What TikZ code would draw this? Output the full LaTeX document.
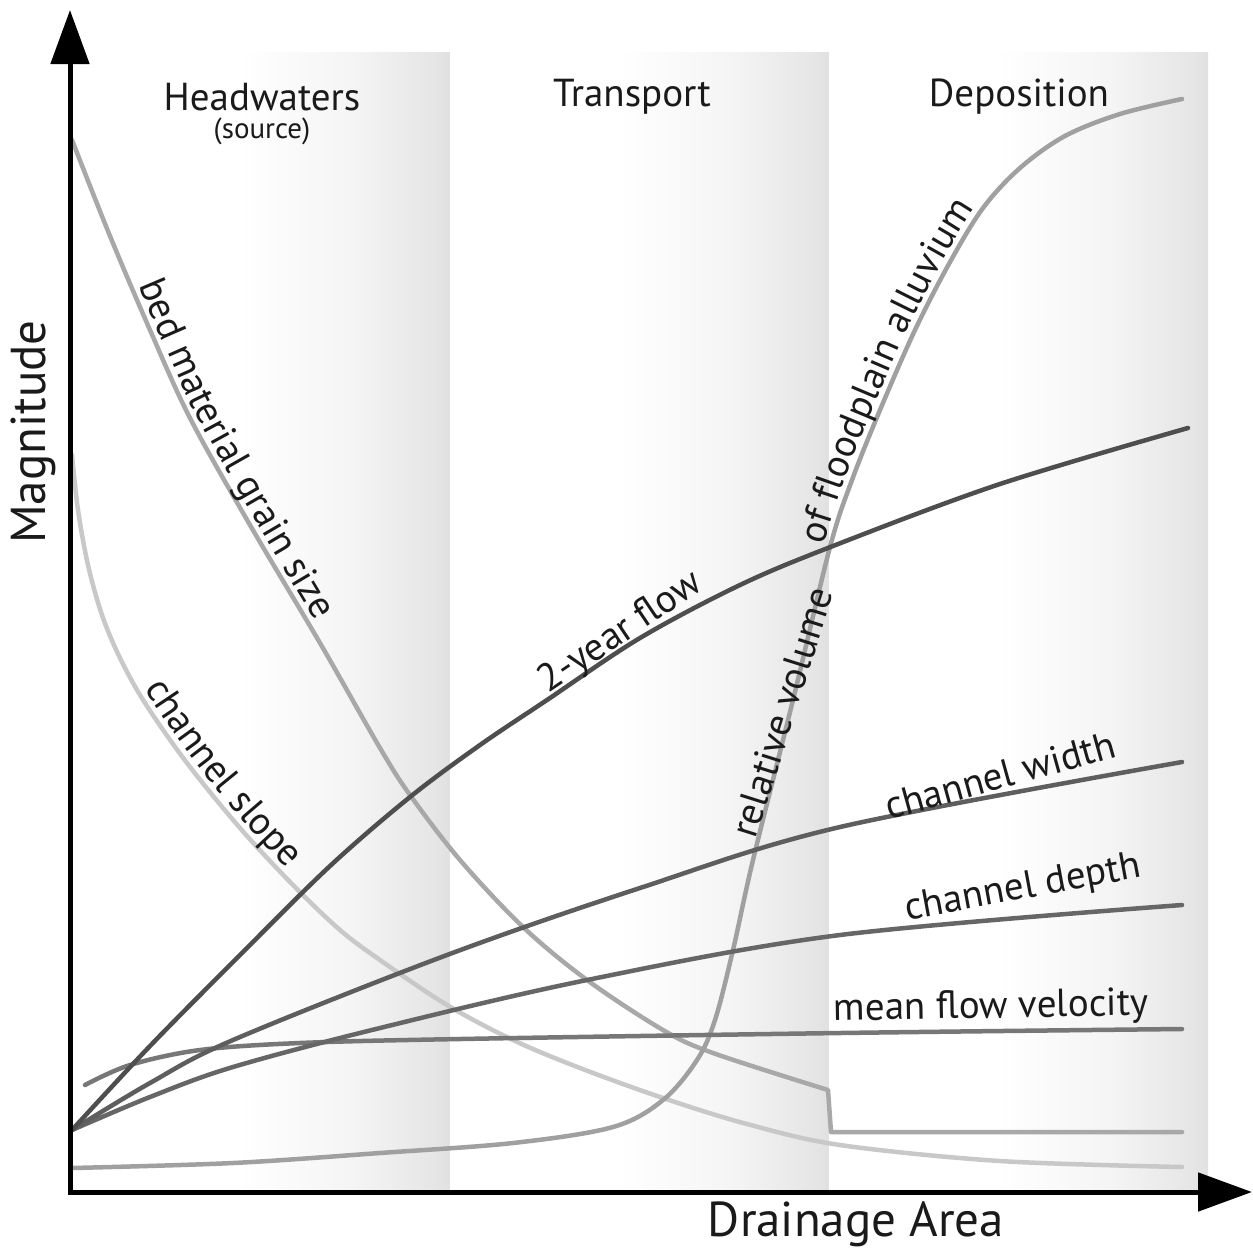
\documentclass[tikz,border=0pt]{standalone}
\usepackage{fontspec}
\setmainfont{PT Sans}
\usetikzlibrary{arrows.meta,decorations.text}
\pgfdeclarehorizontalshading{band}{100bp}{color(0bp)=(white); color(25bp)=(white); color(47bp)=(white); color(62bp)=(black!4); color(73bp)=(black!10); color(75bp)=(black!12); color(100bp)=(black!12)}
\definecolor{txt}{HTML}{1A1A1A}
\definecolor{cBed}{HTML}{A8A8A8}
\definecolor{cSlope}{HTML}{C8C8C8}
\definecolor{cVol}{HTML}{A0A0A0}
\definecolor{cFlow}{HTML}{4E4E4E}
\definecolor{cWidth}{HTML}{5E5E5E}
\definecolor{cDepth}{HTML}{666666}
\definecolor{cVel}{HTML}{777777}
\newcommand{\lblfont}{\fontsize{39}{44}\selectfont}
\begin{document}
\begin{tikzpicture}[x=1pt,y=-1pt,
  curve/.style={line width=4.5pt, line cap=round, line join=round},
  lbl/.style={text=txt, font=\lblfont, inner sep=0pt},
  head/.style={text=txt, font=\fontsize{39}{44}\selectfont, inner sep=0pt},
  axlbl/.style={text=txt, font=\fontsize{49}{54}\selectfont, inner sep=0pt},
  along/.style={decorate, decoration={text along path, text={|\lblfont|#1}, text align=center, raise=7pt, text color=txt}},
  axisline/.style={line width=5pt, -{Triangle[length=54pt,width=38pt]}}]
\useasboundingbox (0,0) rectangle (1253,1251);
\fill[white] (0,0) rectangle (1253,1251);
% bands
\shade[shading=band] (70,52) rectangle (450,1192);
\shade[shading=band] (450,52) rectangle (829,1192);
\shade[shading=band] (829,52) rectangle (1208,1192);
% headers
\node[head] (hw) at (262,97) {Headwaters};
\node[text=txt, font=\fontsize{29}{32}\selectfont, inner sep=0pt] (src) at (262,131) {(source)};
\node[head] (tr) at (632,97) {Transport};
\node[head] (dp) at (1019,97) {Deposition};
% curves
\draw[curve, cSlope] plot[smooth, tension=0.55] coordinates {(72,455) (78,510) (88,565) (102,615) (120,658) (145,703) (187,763) (240,828) (293,885) (340,930) (380,960) (447,1005) (513,1040) (580,1068) (663,1098) (747,1124) (840,1145) (1000,1161) (1182,1167)};
\draw[curve, cBed] plot[smooth, tension=0.55] coordinates {(72,140) (110,236) (150,330) (190,418) (250,525) (320,643) (380,748) (410,795) (460,860) (523,927) (587,980) (663,1030) (713,1053) (828,1090)} -- (831,1132) -- (1182,1132);
\draw[curve, cVol] plot[smooth, tension=0.55] coordinates {(72,1168) (233,1163) (380,1153) (513,1143) (613,1127) (663,1100) (697,1060) (715,1020) (733,950) (753,860) (793,700) (830,547) (852,480) (880,410) (915,330) (950,262) (983,208) (1020,168) (1065,136) (1120,114) (1182,99)};
\draw[curve, cVel] plot[smooth, tension=0.55] coordinates {(85,1085) (130,1065) (200,1050) (300,1043) (460,1039) (840,1033) (1182,1029)};
\draw[curve, cDepth] plot[smooth, tension=0.55] coordinates {(72,1130) (150,1097) (233,1067) (380,1028) (587,980) (840,935) (1182,905)};
\draw[curve, cWidth] plot[smooth, tension=0.55] coordinates {(72,1130) (150,1083) (233,1040) (447,955) (640,888) (840,827) (1182,762)};
\draw[curve, cFlow] plot[smooth, tension=0.55] coordinates {(72,1130) (150,1046) (240,955) (330,866) (410,797) (480,745) (547,700) (640,638) (740,585) (833,546) (1000,484) (1188,428)};
% curve labels following their curves
\path[along={bed material grain size}] plot[smooth, tension=0.55] coordinates {(110,236) (150,330) (190,418) (250,525) (320,643) (338,674)};
\path[along={channel slope}] plot[smooth, tension=0.55] coordinates {(120,658) (145,703) (187,763) (240,828) (293,885) (310,901)};
\path[along={of floodplain alluvium}] plot[smooth, tension=0.55] coordinates {(823,575) (830,547) (852,480) (880,410) (915,330) (950,262) (983,208) (1000,190)};
% straight labels
\node[lbl, rotate=34] (lflow) at (621,633) {2-year flow};
\node[lbl, rotate=72.5] (lvol) at (782,712) {relative volume};
\node[lbl, rotate=15.5] (lwidth) at (1000,775) {channel width};
\node[lbl, rotate=10.5] (ldepth) at (1023,889) {channel depth};
\node[lbl, rotate=1] (lvel) at (991,1008) {mean flow velocity};
% axes
\coordinate (origin) at (70,1192);
\coordinate (ytip) at (70,10);
\coordinate (xtip) at (1252,1192);
\draw[axisline] (origin) -- (ytip);
\draw[axisline] ([xshift=-2.5pt]origin) -- (xtip);
\node[axlbl, rotate=90] (mag) at (33,432) {Magnitude};
\node[axlbl] (da) at (856,1224) {Drainage Area};
\end{tikzpicture}
\end{document}
